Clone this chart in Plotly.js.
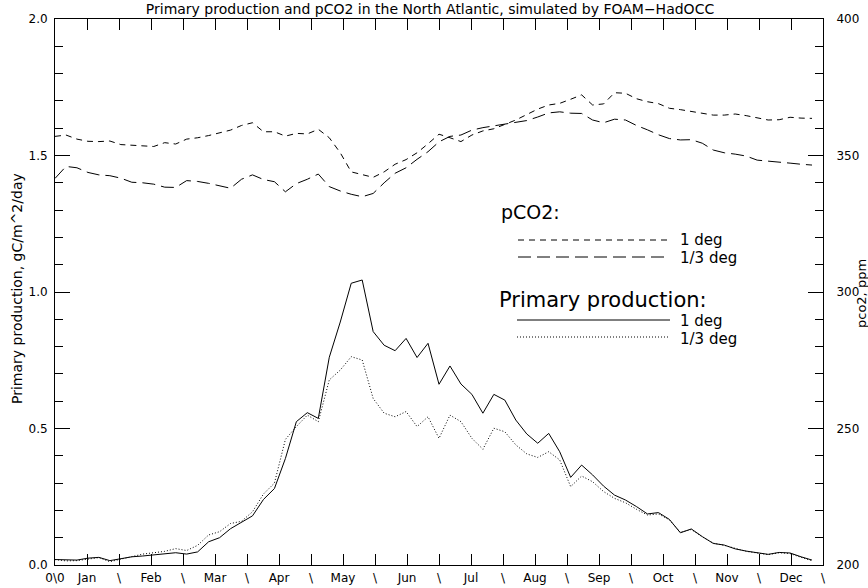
<!DOCTYPE html>
<html>
<head>
<meta charset="utf-8">
<script src="https://cdn.plot.ly/plotly-3.0.1.min.js"></script>
<style>
html, body { margin: 0; padding: 0; background: #ffffff; }
#chart { width: 868px; height: 588px; }
</style>
</head>
<body>
<div id="chart"></div>
<script>
// ---- data ----
// x axis: months, ticks every half month
const monthTickVals = [0,0.5,1,1.5,2,2.5,3,3.5,4,4.5,5,5.5,6,6.5,7,7.5,8,8.5,9,9.5,10,10.5,11,11.5,12];
const monthTickText = ["0\\0","Jan","\\","Feb","\\","Mar","\\","Apr","\\","May","\\","Jun","\\",
                       "Jul","\\","Aug","\\","Sep","\\","Oct","\\","Nov","\\","Dec","\\"];
// samples: 70 per year, starting at 0 (in months)
const sampleStart = 0;
const sampleStep = 12 / 70;

// Primary production, gC/m^2/day
const pp1deg = [0.020,0.018,0.018,0.025,0.028,0.016,0.022,0.030,0.033,0.037,
                0.040,0.045,0.040,0.048,0.085,0.100,0.133,0.155,0.180,0.240,
                0.280,0.390,0.525,0.558,0.537,0.761,0.890,1.032,1.044,0.855,
                0.805,0.785,0.830,0.760,0.812,0.662,0.729,0.663,0.625,0.556,
                0.625,0.604,0.531,0.480,0.446,0.482,0.415,0.321,0.366,0.330,
                0.289,0.256,0.238,0.214,0.187,0.192,0.167,0.118,0.132,0.104,
                0.079,0.073,0.059,0.051,0.045,0.039,0.046,0.044,0.030,0.018];
const pp3deg = [0.020,0.015,0.016,0.022,0.027,0.012,0.022,0.032,0.040,0.045,
                0.050,0.060,0.053,0.072,0.110,0.122,0.152,0.160,0.195,0.260,
                0.300,0.460,0.507,0.549,0.525,0.678,0.714,0.763,0.751,0.610,
                0.556,0.543,0.562,0.507,0.543,0.464,0.549,0.525,0.464,0.424,
                0.501,0.488,0.440,0.407,0.394,0.415,0.385,0.287,0.326,0.305,
                0.269,0.244,0.228,0.204,0.183,0.187,0.165,0.120,0.130,0.103,
                0.080,0.072,0.060,0.050,0.044,0.038,0.045,0.042,0.028,0.016];
// pCO2, ppm
const pco2_1deg = [357.0,357.5,356.0,355.2,355.1,355.3,354.0,353.8,353.7,353.3,
                   354.7,354.2,356.0,356.5,357.3,358.2,359.3,361.0,362.0,358.7,
                   358.7,357.1,358.1,357.9,359.6,356.5,351.0,344.0,343.0,342.0,
                   344.0,346.8,348.5,351.0,354.3,357.8,356.5,355.1,357.5,359.0,
                   359.8,361.5,363.0,365.0,367.0,368.5,369.1,370.6,372.2,368.5,
                   368.9,373.0,372.8,370.8,369.7,369.0,367.3,366.8,366.2,365.5,
                   364.8,364.8,365.2,364.6,363.8,363.0,363.1,364.0,363.7,363.6];
const pco2_3deg = [341.6,346.0,345.5,343.8,342.9,342.6,341.7,340.2,340.0,339.5,
                   338.4,338.3,340.8,340.5,339.8,339.0,338.0,341.3,342.9,341.2,
                   340.4,336.7,339.7,341.3,343.2,338.6,337.0,335.8,334.9,336.1,
                   340.0,343.5,345.5,348.6,351.4,355.0,357.0,357.5,359.3,360.2,
                   360.8,361.5,362.1,362.8,364.1,365.6,366.0,365.5,365.4,363.0,
                   362.0,363.3,363.0,361.0,359.4,357.6,356.2,355.7,355.8,354.5,
                   352.0,351.0,350.5,349.8,348.3,348.0,347.6,347.2,346.8,346.5];

// ---- drawing ----
const FONT = "DejaVu Sans";
const W = 868, H = 588;
const M = {l: 55, r: 45, t: 19, b: 23};
const PW = W - M.l - M.r, PH = H - M.t - M.b;
const px = (x) => (x - M.l) / PW;     // pixel -> paper x
const py = (y) => (H - M.b - y) / PH; // pixel -> paper y

const lineStyle = (dash) => ({color: "#000000", width: 1, dash: dash});

const traces = [
  {type: "scatter", mode: "lines", name: "pCO2 1 deg", x0: sampleStart, dx: sampleStep,
   y: pco2_1deg, yaxis: "y2", line: lineStyle("6px,5px"), hoverinfo: "skip"},
  {type: "scatter", mode: "lines", name: "pCO2 1/3 deg", x0: sampleStart, dx: sampleStep,
   y: pco2_3deg, yaxis: "y2", line: lineStyle("13px,6px"), hoverinfo: "skip"},
  {type: "scatter", mode: "lines", name: "PP 1 deg", x0: sampleStart, dx: sampleStep,
   y: pp1deg, yaxis: "y", line: lineStyle("solid"), hoverinfo: "skip"},
  {type: "scatter", mode: "lines", name: "PP 1/3 deg", x0: sampleStart, dx: sampleStep,
   y: pp3deg, yaxis: "y", line: lineStyle("1px,2px"), hoverinfo: "skip"}
];

const legendLines = [
  {x0: 518, x1: 672, y: 240, dash: "6px,5px"},
  {x0: 518, x1: 668, y: 257, dash: "13px,6px"},
  {x0: 517, x1: 670, y: 320, dash: "solid"},
  {x0: 517, x1: 670, y: 337, dash: "1px,2px"}
];
const shapes = legendLines.map(l => ({
  type: "line", xref: "paper", yref: "paper",
  x0: px(l.x0), x1: px(l.x1), y0: py(l.y), y1: py(l.y),
  line: lineStyle(l.dash)
}));

const txt = (text, x, y, size, extra) => Object.assign({
  text: text, xref: "paper", yref: "paper", x: px(x), y: py(y),
  xanchor: "left", yanchor: "middle", showarrow: false,
  font: {family: FONT, size: size, color: "#000000"}
}, extra || {});

const annotations = [
  txt("pCO2:", 499, 212, 19),
  txt("1 deg", 678, 240, 15),
  txt("1/3 deg", 678, 258, 15),
  txt("Primary production:", 497, 300, 21),
  txt("1 deg", 678, 321, 15),
  txt("1/3 deg", 678, 339, 15),
  // axis titles
  {text: "Primary production, gC/m^2/day", xref: "paper", yref: "paper",
   x: px(17), y: py(289), xanchor: "center", yanchor: "middle", textangle: -90,
   showarrow: false, font: {family: FONT, size: 14, color: "#000000"}},
  {text: "pco2, ppm", xref: "paper", yref: "paper",
   x: px(861), y: py(294), xanchor: "center", yanchor: "middle", textangle: -90,
   showarrow: false, font: {family: FONT, size: 13, color: "#000000"}}
];

const axisCommon = {
  showgrid: false, zeroline: false, showline: true, linecolor: "#000000", linewidth: 1,
  ticks: "inside", tickcolor: "#000000", tickwidth: 1,
  tickfont: {family: FONT, size: 12, color: "#000000"}
};

const layout = {
  width: W, height: H,
  margin: M,
  paper_bgcolor: "#ffffff", plot_bgcolor: "#ffffff",
  showlegend: false,
  font: {family: FONT, color: "#000000"},
  title: {text: "Primary production and pCO2 in the North Atlantic, simulated by FOAM\u2212HadOCC",
          xref: "container", yref: "container", x: 430 / W, y: 1 - 9 / H,
          xanchor: "center", yanchor: "middle",
          font: {family: FONT, size: 14, color: "#000000"}},
  xaxis: Object.assign({}, axisCommon, {
    range: [0, 12], tickmode: "array", tickvals: monthTickVals, ticktext: monthTickText,
    ticklen: 11, mirror: "ticks", ticklabelstandoff: 2
  }),
  yaxis: Object.assign({}, axisCommon, {
    range: [0, 2], tickmode: "linear", tick0: 0, dtick: 0.5, tickformat: ".1f",
    ticklen: 15, ticklabelstandoff: 4,
    minor: {dtick: 0.1, ticks: "inside", ticklen: 8, tickcolor: "#000000", tickwidth: 1, showgrid: false}
  }),
  yaxis2: Object.assign({}, axisCommon, {
    overlaying: "y", side: "right",
    range: [200, 400], tickmode: "linear", tick0: 200, dtick: 50, tickformat: "d",
    ticklen: 15, ticklabelstandoff: 10,
    minor: {dtick: 10, ticks: "inside", ticklen: 8, tickcolor: "#000000", tickwidth: 1, showgrid: false}
  }),
  shapes: shapes,
  annotations: annotations
};

Plotly.newPlot("chart", traces, layout, {staticPlot: true, displayModeBar: false});
</script>
</body>
</html>
